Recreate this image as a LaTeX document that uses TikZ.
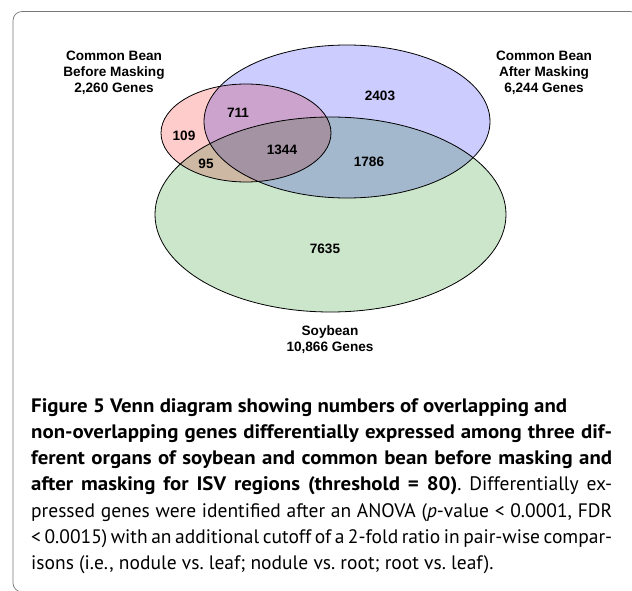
\documentclass[tikz,border=0pt]{standalone}
\usepackage{fontspec}
\setmainfont{PT Sans}[BoldFeatures={FakeStretch=1.07}]
\newfontfamily\vennfont{Liberation Sans}
\definecolor{beforefill}{RGB}{255,204,204}
\definecolor{afterfill}{RGB}{204,204,255}
\definecolor{soyfill}{RGB}{204,230,204}
\definecolor{framegray}{RGB}{120,120,120}

\begin{document}
\begin{tikzpicture}[x=1pt,y=-1pt,venn/.style={draw=black,line width=0.8pt},count/.style={font=\vennfont\bfseries\fontsize{13.6}{16}\selectfont,inner sep=0pt},setlabel/.style={count,align=center},caption/.style={font=\fontsize{19.5}{26.3}\selectfont\frenchspacing,text width=581pt,align=justify,inner sep=0pt}]
\useasboundingbox (0,0) rectangle (632,591);
\clip (0,0) rectangle (632,591);
\draw[framegray,line width=0.7pt,rounded corners=9pt] (13,11.5) rectangle (639,592);
% the three sets
\begin{scope}[blend group=multiply]
\fill[afterfill] (347,121.5) ellipse [x radius=143,y radius=76.5];
\fill[beforefill] (246,133) ellipse [x radius=85,y radius=49];
\fill[soyfill] (330.5,214.5) ellipse [x radius=175.5,y radius=97.5];
\end{scope}
\draw[venn] (347,121.5) ellipse [x radius=143,y radius=76.5];\draw[venn] (246,133) ellipse [x radius=85,y radius=49];\draw[venn] (330.5,214.5) ellipse [x radius=175.5,y radius=97.5];
\node[setlabel] (before) at (114,73){Common Bean\\Before Masking\\2,260 Genes};
\node[setlabel] (after) at (544,73){Common Bean\\After Masking\\6,244 Genes};
\node[setlabel] (soy) at (330,340){Soybean\\10,866 Genes};
\node[count] (n2403) at (380,96){2403};\node[count] (n711) at (238,113){711};\node[count] (n109) at (184,136){109};\node[count] (n1344) at (282,150){1344};\node[count] (n95) at (206,164){95};\node[count] (n1786) at (369,162){1786};\node[count] (n7635) at (325,249){7635};
\node[caption, anchor=north west] (caption) at (31,398){\bfseries Figure 5 Venn diagram showing numbers of overlapping and\newline non-overlapping genes differentially expressed among three dif-\linebreak ferent organs of soybean and common bean before masking and\linebreak after masking for ISV regions (threshold = 80)\mdseries. Differentially ex-\linebreak pressed genes were identified after an ANOVA (\emph{p}-value < 0.0001, FDR\linebreak < 0.0015) with an additional cutoff of a 2-fold ratio in pair-wise compar-\linebreak isons (i.e., nodule vs. leaf; nodule vs. root; root vs. leaf).};
\end{tikzpicture}
\end{document}
